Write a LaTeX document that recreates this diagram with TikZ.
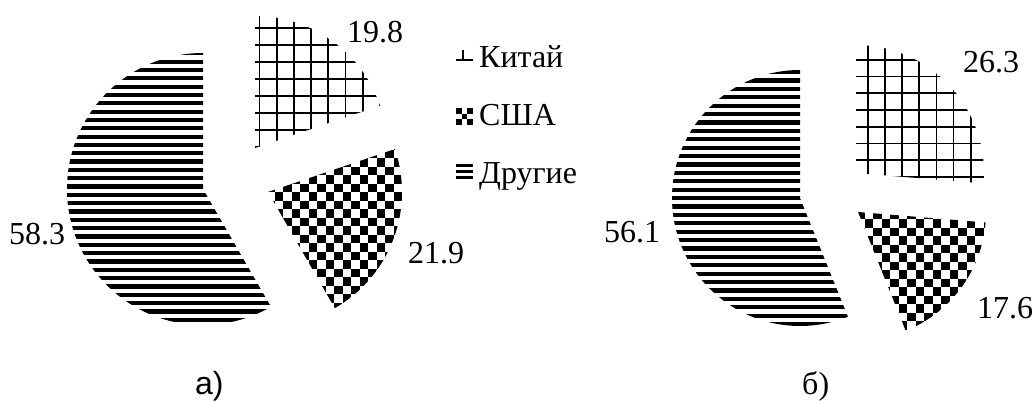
\documentclass[tikz,border=0pt]{standalone}
\usepackage{fontspec}
\setmainfont{Liberation Serif}
\newfontfamily\sansfont{Liberation Sans}

\begin{document}
\begin{tikzpicture}[x=1pt,y=1pt,
	lbl/.style={anchor=base west,inner sep=0pt,font=\fontsize{32}{38}\selectfont},
	gridline/.style={line width=1.8pt},
	stripe/.style={line width=4.2pt}]
\useasboundingbox (0,0) rectangle (1035,400);
%========================================
% LEFT: chart a)
%========================================
% Other = 58.3
\begin{scope}
	\clip (203,211) -- ++(90:136) arc[start angle=90,end angle=300,radius=136] -- cycle;
	\foreach \k in {0,...,33}
	\draw[stripe] (60,{346.7-\k*8.33}) -- (290,{346.7-\k*8.33});
\end{scope}
% China = 19.8
\begin{scope}
	\clip (255,252) -- ++(18.7:132) arc[start angle=18.7,end angle=90,radius=132] -- cycle;
	\foreach \k in {0,...,7}
	\draw[gridline] ({259.5+\k*17.2},248) -- ++(0,140);
	\foreach \k in {0,...,7}
	\draw[gridline] (250,{372.3-\k*17}) -- ++(140,0);
\end{scope}
% USA = 21.9
\begin{scope}
	\clip (268,208) -- ++(-60.1:134) arc[start angle=-60.1,end angle=18.7,radius=134] -- cycle;
	\foreach \i in {0,2,...,16}
	\foreach \j in {0,2,...,22}{
		\fill ({266+\i*8.5},{72+\j*8.5}) rectangle ++(8.5,8.5);
		\fill ({266+(\i+1)*8.5},{72+(\j+1)*8.5}) rectangle ++(8.5,8.5);
	}
\end{scope}
\node[lbl] (val-a-kit) at (347,357) {19.8};
\node[lbl] (val-a-usa) at (408,137) {21.9};
\node[lbl] (val-a-oth) at (9,156) {58.3};
\node[lbl,font=\sansfont\fontsize{32}{38}\selectfont] (cap-a) at (195,6) {а)};

%========================================
% LEGEND
%========================================
\draw[line width=1.3pt] (463,350) -- (463,339);
\draw[line width=1.3pt] (456,340) -- (473,340);
\foreach \i/\j in {0/0,2/0,1/1,0/2,2/2}
\fill ({456+\i*5.7},{275+\j*5.7}) rectangle ++(5.7,5.7);
\foreach \y in {234.5,228.5,222.5}
\draw[line width=2.2pt] (456,\y) -- (473,\y);
\node[lbl] (leg-kit) at (479,333) {Китай};
\node[lbl] (leg-usa) at (479,275) {США};
\node[lbl] (leg-oth) at (479,217) {Другие};

%========================================
% RIGHT: chart b)
%========================================
% Other = 56.1
\begin{scope}
	\clip (800,202) -- ++(90:128) arc[start angle=90,end angle=292,radius=128] -- cycle;
	\foreach \k in {0,...,31}
	\draw[stripe] (665,{328-\k*8.4}) -- (870,{328-\k*8.4});
\end{scope}
% China = 26.3
\begin{scope}
	\clip (856,227) -- ++(-4.7:128) arc[start angle=-4.7,end angle=90,radius=128] -- cycle;
	\foreach \k in {-1,...,7}
	\draw[gridline] ({868+\k*17.1},215) -- ++(0,145);
	\foreach \k in {0,...,8}
	\draw[gridline] (850,{357-\k*16.75}) -- ++(140,0);
\end{scope}
% USA = 17.6
\begin{scope}
	\clip (858,188) -- ++(-68.1:128) arc[start angle=-68.1,end angle=-4.7,radius=128] -- cycle;
	\foreach \i in {0,2,...,16}
	\foreach \j in {0,2,...,16}{
		\fill ({856+\i*8.5},{62+\j*8.5}) rectangle ++(8.5,8.5);
		\fill ({856+(\i+1)*8.5},{62+(\j+1)*8.5}) rectangle ++(8.5,8.5);
	}
\end{scope}
\node[lbl] (val-b-kit) at (963,328) {26.3};
\node[lbl] (val-b-usa) at (977,82) {17.6};
\node[lbl] (val-b-oth) at (604,158) {56.1};
\node[lbl] (cap-b) at (802,6) {б)};
\end{tikzpicture}
\end{document}
